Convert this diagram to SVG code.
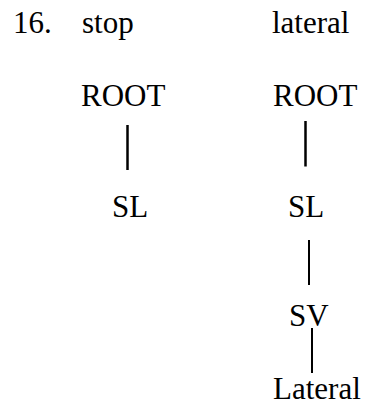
<svg xmlns="http://www.w3.org/2000/svg" width="365" height="404" viewBox="0 0 365 404">
  <style>
    .label { font-family: "Liberation Serif", "Times New Roman", serif; font-size: 31px; fill: #000; }
    .edge { stroke: #000; stroke-linecap: butt; fill: none; }
  </style>
  <rect width="365" height="404" fill="#fff"/>

  <!-- example number and column headings -->
  <g id="heading">
    <text class="label" x="13" y="33">16.</text>
    <text class="label" x="82" y="33">stop</text>
    <text class="label" x="272" y="33">lateral</text>
  </g>

  <!-- stop tree -->
  <g id="stop-root"><text class="label" x="81" y="106">ROOT</text></g>
  <g id="stop-sl"><text class="label" x="112" y="217">SL</text></g>

  <!-- lateral tree -->
  <g id="lateral-root"><text class="label" x="273" y="106">ROOT</text></g>
  <g id="lateral-sl"><text class="label" x="288" y="217">SL</text></g>
  <g id="lateral-sv"><text class="label" x="289" y="326">SV</text></g>
  <g id="lateral-leaf"><text class="label" x="273" y="399">Lateral</text></g>

  <g id="connectors">
    <line class="edge" x1="127.5" y1="125" x2="127.5" y2="170" stroke-width="2.5"/>
    <line class="edge" x1="305.5" y1="121" x2="305.5" y2="166.5" stroke-width="2.5"/>
    <line class="edge" x1="309" y1="240" x2="309" y2="285" stroke-width="2"/>
    <line class="edge" x1="312" y1="328" x2="312" y2="373" stroke-width="2"/>
  </g>
</svg>
